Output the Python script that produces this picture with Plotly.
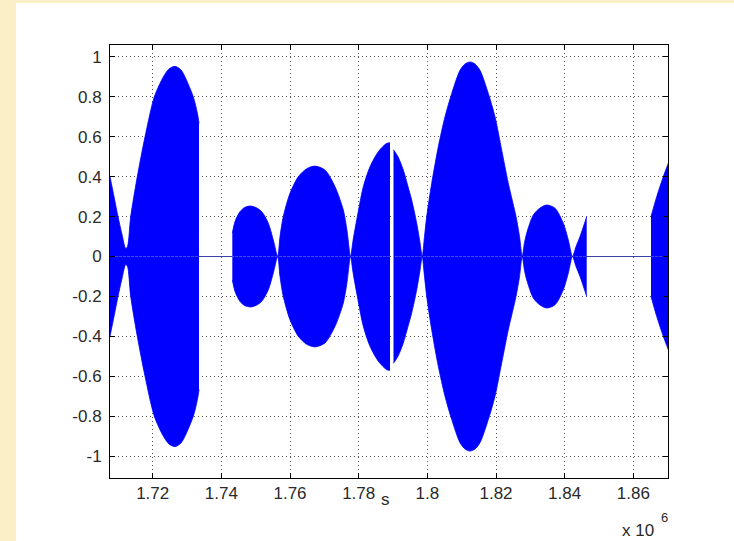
import plotly.graph_objects as go

# ---- data (x in units of 1e6 s) ----
# each segment: envelope positions and amplitudes (signal fills +/- amplitude)
seg1_x = [1.70756, 1.70873, 1.70989, 1.71106, 1.71213, 1.71266, 1.71359, 1.71551,
          1.71776, 1.72047, 1.72309, 1.72475, 1.72650, 1.72824, 1.72941, 1.73183,
          1.73299, 1.73349]
seg1_a = [0.40, 0.30, 0.20, 0.11, 0.04, 0.05, 0.20, 0.40,
          0.60, 0.80, 0.90, 0.94, 0.953, 0.935, 0.90, 0.80,
          0.72, 0.667]

seg2_x = [1.74319, 1.74397, 1.74543, 1.74689, 1.74855, 1.75009, 1.75175, 1.75367,
          1.75513, 1.75641, 1.75708, 1.75804, 1.75999, 1.76241, 1.76486, 1.76728,
          1.77019, 1.77310, 1.77552, 1.77660, 1.77762, 1.77835, 1.77942, 1.78135,
          1.78330, 1.78572, 1.78816, 1.78912]
seg2_a = [0.117, 0.175, 0.225, 0.247, 0.253, 0.245, 0.225, 0.167,
          0.083, 0.0, 0.10, 0.20, 0.317, 0.40, 0.44, 0.453,
          0.433, 0.35, 0.233, 0.13, 0.0, 0.08, 0.183, 0.35,
          0.45, 0.525, 0.567, 0.57]

seg3_x = [1.79014, 1.79145, 1.79300, 1.79437, 1.79544, 1.79690, 1.79786, 1.79850,
          1.79917, 1.79981, 1.80127, 1.80319, 1.80514, 1.80710, 1.80951, 1.81097,
          1.81243, 1.81388, 1.81534, 1.81776, 1.81971, 1.82166, 1.82358, 1.82583,
          1.82685, 1.82763, 1.82830, 1.82894, 1.83086, 1.83282, 1.83477, 1.83719,
          1.83960, 1.84106, 1.84228, 1.84330, 1.84447, 1.84642]
seg3_a = [0.535, 0.50, 0.433, 0.35, 0.283, 0.167, 0.07, 0.0,
          0.10, 0.20, 0.367, 0.55, 0.70, 0.817, 0.933, 0.965,
          0.975, 0.965, 0.933, 0.817, 0.70, 0.533, 0.367, 0.20,
          0.10, 0.0, 0.07, 0.117, 0.208, 0.243, 0.258, 0.242,
          0.167, 0.083, 0.0, 0.05, 0.10, 0.20]

seg4_x = [1.86515, 1.86681, 1.86873, 1.87025]
seg4_a = [0.20, 0.30, 0.40, 0.47]

# silent stretches (signal = 0)
quiet_x0 = [1.73349, 1.84642]
quiet_x1 = [1.74319, 1.86515]

x_ticks = [1.72, 1.74, 1.76, 1.78, 1.80, 1.82, 1.84, 1.86]
x_tick_labels = ["1.72", "1.74", "1.76", "1.78", "1.8", "1.82", "1.84", "1.86"]
y_ticks = [-1, -0.8, -0.6, -0.4, -0.2, 0, 0.2, 0.4, 0.6, 0.8, 1]
y_tick_labels = ["-1", "-0.8", "-0.6", "-0.4", "-0.2", "0", "0.2", "0.4", "0.6", "0.8", "1"]

SCALE = 1e6
BLUE = "rgb(0,0,255)"
TXT = "#2a2a2a"

fig = go.Figure()

for a, b in zip(quiet_x0, quiet_x1):
    fig.add_trace(go.Scatter(x=[a * SCALE, b * SCALE], y=[0, 0], mode="lines",
                             line=dict(color="#3a44a8", width=1.2),
                             hoverinfo="skip", showlegend=False))

for xs, amps in [(seg1_x, seg1_a), (seg2_x, seg2_a), (seg3_x, seg3_a), (seg4_x, seg4_a)]:
    xv = [v * SCALE for v in xs]
    for sign in (1, -1):
        fig.add_trace(go.Scatter(x=xv, y=[sign * a for a in amps], mode="lines",
                                 fill="tozeroy", fillcolor=BLUE,
                                 line=dict(color=BLUE, width=0.8, shape="spline", smoothing=0.8),
                                 hoverinfo="skip", showlegend=False))

axis_common = dict(showline=True, linecolor="black", linewidth=1, mirror="ticks",
                   ticks="inside", ticklen=5, tickcolor="black",
                   showgrid=True, gridcolor="#555555", gridwidth=1, griddash="1px,3px",
                   zeroline=False,
                   tickfont=dict(family="Liberation Sans", size=17, color=TXT))

fig.update_xaxes(range=[1.70756 * SCALE, 1.87010 * SCALE],
                 tickvals=[v * SCALE for v in x_ticks], ticktext=x_tick_labels,
                 **axis_common)
fig.update_yaxes(range=[-1.11, 1.06], tickvals=y_ticks, ticktext=y_tick_labels,
                 ticklabelstandoff=4, **axis_common)

W, H = 734, 541
L, R, T, B = 110, 66, 45, 63
pw, ph = W - L - R, H - T - B

def pxx(p):
    return (p - L) / pw

def pxy(p):
    return (H - B - p) / ph

fig.add_shape(type="rect", xref="paper", yref="paper",
              x0=pxx(16), x1=pxx(740), y0=pxy(3), y1=pxy(545),
              fillcolor="white", line=dict(width=0), layer="below")

fig.add_annotation(text="s", xref="paper", yref="paper", x=pxx(385), y=pxy(488),
                   xanchor="center", yanchor="top", showarrow=False,
                   font=dict(family="Liberation Sans", size=17, color=TXT))
fig.add_annotation(text="x 10", xref="paper", yref="paper", x=pxx(638), y=pxy(530),
                   xanchor="center", yanchor="middle", showarrow=False,
                   font=dict(family="Liberation Sans", size=17, color=TXT))
fig.add_annotation(text="6", xref="paper", yref="paper", x=pxx(664), y=pxy(517),
                   xanchor="center", yanchor="middle", showarrow=False,
                   font=dict(family="Liberation Sans", size=13, color=TXT))

fig.update_layout(width=W, height=H, margin=dict(l=L, r=R, t=T, b=B),
                  paper_bgcolor="#FBEFC8", plot_bgcolor="white", showlegend=False)

fig.write_html("out.html")
